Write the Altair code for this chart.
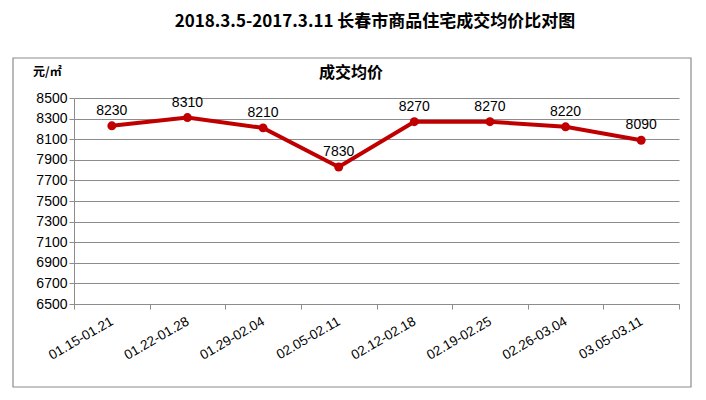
import altair as alt
import pandas as pd

weeks = ["01.15-01.21", "01.22-01.28", "01.29-02.04", "02.05-02.11",
         "02.12-02.18", "02.19-02.25", "02.26-03.04", "03.05-03.11"]
prices = [8230, 8310, 8210, 7830, 8270, 8270, 8220, 8090]
y_ticks = [6500, 6700, 6900, 7100, 7300, 7500, 7700, 7900, 8100, 8300, 8500]

main_title = "2018.3.5-2017.3.11 长春市商品住宅成交均价比对图"
sub_title = "成交均价"
unit_label = "元/㎡"

df = pd.DataFrame({"week": weeks, "price": prices})

FONT = "Noto Sans CJK SC"
LINE_COLOR = "#C00000"
GRID = "#8c8c8c"

x_enc = alt.X("week:N", sort=weeks, title=None,
              scale=alt.Scale(paddingInner=0, paddingOuter=0),
              axis=alt.Axis(labelAngle=330, labelAlign="right", labelBaseline="middle",
                            labelFontSize=13.5, labelColor="#000",
                            labelFont="Liberation Sans",
                            tickBand="extent", tickSize=5, tickColor=GRID,
                            domainColor=GRID, labelPadding=11, grid=False))
y_enc = alt.Y("price:Q", title=None,
              scale=alt.Scale(domain=[6500, 8500], nice=False, zero=False),
              axis=alt.Axis(values=y_ticks, format="d", labelFontSize=14, labelColor="#000",
                            labelFont="Liberation Sans", tickSize=5, tickColor=GRID,
                            domainColor=GRID, gridColor=GRID, grid=True, labelPadding=2))

base = alt.Chart(df).encode(x=x_enc, y=y_enc)

line = base.mark_line(color=LINE_COLOR, strokeWidth=4)
pts = base.mark_point(filled=True, color=LINE_COLOR, size=80, opacity=1)
labels = base.mark_text(dy=-15, fontSize=14, font="Liberation Sans", color="#000").encode(
    text=alt.Text("price:Q", format="d"))

one = pd.DataFrame({"a": [0]})
border = alt.Chart(one).mark_rect(filled=False, stroke="#8c8c8c", strokeWidth=1.2).encode(
    x=alt.value(-61), x2=alt.value(617), y=alt.value(-40), y2=alt.value(289))

t_main = alt.Chart(one).mark_text(text=main_title, font=FONT, fontWeight="bold",
                                  fontSize=17, align="center", baseline="middle",
                                  color="#000").encode(x=alt.value(301), y=alt.value(-76))
t_sub = alt.Chart(one).mark_text(text=sub_title, font=FONT, fontWeight="bold",
                                 fontSize=16, align="center", baseline="middle",
                                 color="#000").encode(x=alt.value(277), y=alt.value(-25))
t_unit = alt.Chart(one).mark_text(text=unit_label, font=FONT, fontWeight="bold",
                                  fontSize=12, align="left", baseline="middle",
                                  color="#000").encode(x=alt.value(-41), y=alt.value(-26))

chart = alt.layer(border, line, pts, labels, t_main, t_sub, t_unit).properties(
    width=605, height=206,
    padding={"left": 66, "top": 90, "right": 19, "bottom": 88},
    autosize=alt.AutoSizeParams(type="none"),
    background="white",
).configure_view(stroke=None)

chart.save("out.html", embed_options={"renderer": "svg", "actions": False})
